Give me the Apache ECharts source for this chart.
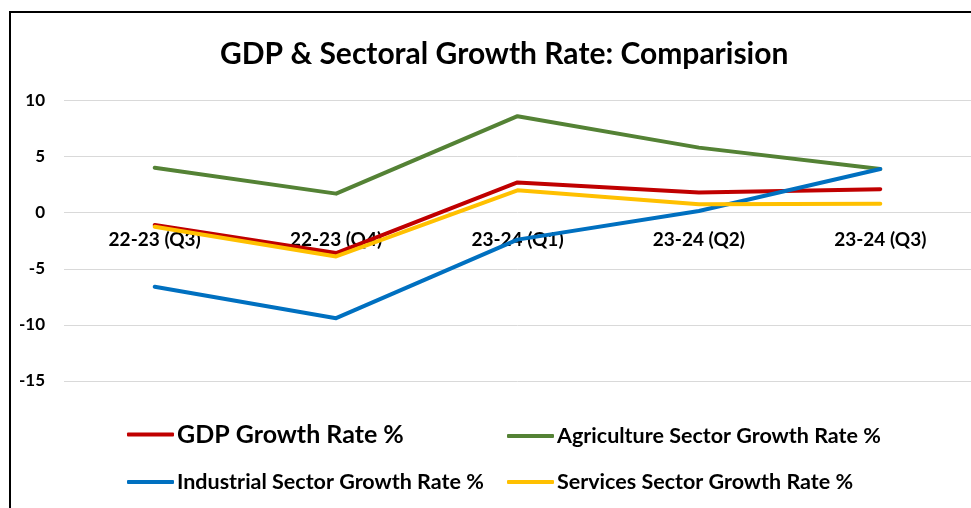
<!DOCTYPE html>
<html>
<head>
<meta charset="utf-8">
<script src="https://cdn.jsdelivr.net/npm/echarts@6/dist/echarts.min.js"></script>
<style>
  html, body { margin: 0; padding: 0; background: #fff; }
  #chart { width: 971px; height: 508px; }
</style>
</head>
<body>
<div id="chart"></div>
<script>
// quarters on the x axis
const quarters = ['22-23 (Q3)', '22-23 (Q4)', '23-24 (Q1)', '23-24 (Q2)', '23-24 (Q3)']
// growth rates in %
const gdpGrowth = [-1.1, -3.6, 2.7, 1.8, 2.1]
const agriGrowth = [4.0, 1.7, 8.6, 5.8, 3.9]
const industryGrowth = [-6.6, -9.4, -2.4, 0.15, 3.9]
const servicesGrowth = [-1.25, -3.9, 2.0, 0.75, 0.8]

const FONT = 'Lato'
const chart = echarts.init(document.getElementById('chart'))

function line(name, data, color) {
  return {
    name: name,
    type: 'line',
    data: data,
    symbol: 'none',
    lineStyle: { color: color, width: 4, cap: 'round', join: 'round' },
    itemStyle: { color: color },
  }
}

function legendAt(name, left, top, size) {
  return {
    data: [name],
    left: left,
    top: top,
    icon: 'roundRect',
    itemWidth: 47,
    itemHeight: 4,
    itemGap: 0,
    textStyle: { fontFamily: FONT, fontWeight: 'bold', fontSize: size, color: '#000', padding: [0, 0, 0, -2] },
  }
}

chart.setOption({
  animation: false,
  backgroundColor: '#fff',
  title: {
    text: 'GDP & Sectoral Growth Rate: Comparision',
    left: 215,
    top: 34,
    textStyle: { fontFamily: FONT, fontWeight: 'bold', fontSize: 30, color: '#000' },
  },
  grid: { left: 64, top: 100.5, width: 910, height: 280.5 },
  xAxis: {
    type: 'category',
    data: quarters,
    // labels sit just under the zero line, as in the original
    offset: -168.3,
    axisLine: { show: false, onZero: false },
    axisTick: { show: false },
    axisLabel: { fontFamily: FONT, fontWeight: 'bold', fontSize: 19, color: '#000', margin: 18 },
  },
  yAxis: {
    type: 'value',
    min: -15,
    max: 10,
    interval: 5,
    axisLine: { show: false },
    axisTick: { show: false },
    splitLine: { lineStyle: { color: '#d9d9d9', width: 1 } },
    axisLabel: { fontFamily: FONT, fontWeight: 'bold', fontSize: 17, color: '#000', margin: 19 },
  },
  legend: [
    legendAt('GDP Growth Rate %', 122, 417, 25),
    legendAt('Agriculture Sector Growth Rate %', 502, 420, 21.5),
    legendAt('Industrial Sector Growth Rate %', 122, 466, 21.5),
    legendAt('Services Sector Growth Rate %', 502, 466, 21.5),
  ],
  graphic: [{
    type: 'polyline',
    shape: { points: [[10, 508], [10, 12], [971, 12]] },
    style: { stroke: '#000', lineWidth: 2, fill: null },
  }],
  series: [
    line('GDP Growth Rate %', gdpGrowth, '#C00000'),
    line('Agriculture Sector Growth Rate %', agriGrowth, '#548235'),
    line('Industrial Sector Growth Rate %', industryGrowth, '#0070C0'),
    line('Services Sector Growth Rate %', servicesGrowth, '#FFC000'),
  ],
})
</script>
</body>
</html>
